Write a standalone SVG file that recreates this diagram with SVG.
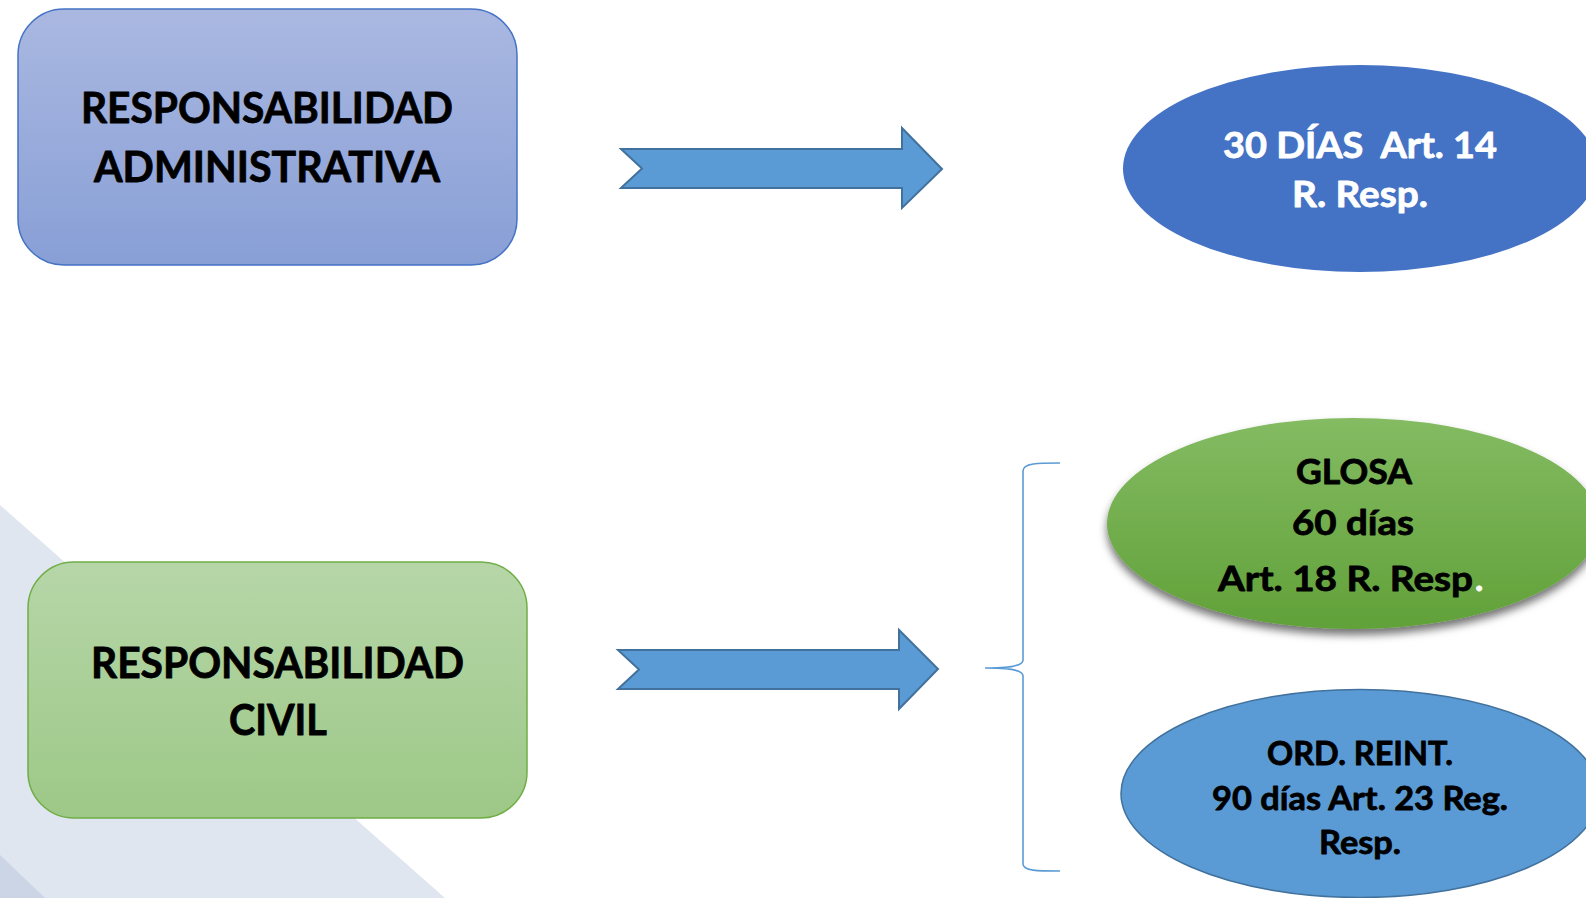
<svg xmlns="http://www.w3.org/2000/svg" width="1586" height="898" viewBox="0 0 1586 898">
<style>
.t{font-family:Lato,"Open Sans","Liberation Sans",sans-serif;font-weight:700;text-anchor:middle;stroke-width:0.8;stroke-linejoin:round}
.blk{fill:#000;stroke:#000}
.wht{fill:#fff;stroke:#fff}
.arrow{fill:#5b9bd5;stroke:#41719c;stroke-width:2;stroke-linejoin:miter}
.brace{fill:none;stroke:#5b9bd5;stroke-width:1.6}
</style>
<defs>
<linearGradient id="gBlue" x1="0" y1="0" x2="0" y2="1">
<stop offset="0" stop-color="#aab8e1"/>
<stop offset="1" stop-color="#889fd6"/>
</linearGradient>
<linearGradient id="gGreenBox" x1="0" y1="0" x2="0" y2="1">
<stop offset="0" stop-color="#b6d6a8"/>
<stop offset="1" stop-color="#9dc887"/>
</linearGradient>
<linearGradient id="gGreenEll" x1="0" y1="0" x2="0" y2="1">
<stop offset="0" stop-color="#84bb63"/>
<stop offset="1" stop-color="#61a139"/>
</linearGradient>
<filter id="shadow" x="-10%" y="-10%" width="120%" height="130%">
<feDropShadow dx="0" dy="6" stdDeviation="4" flood-color="#000" flood-opacity="0.55"/>
</filter>
</defs>
<rect width="1586" height="898" fill="#fff"/>
<g id="background">
<polygon points="0,505 445,898 0,898" fill="#e0e6ef"/>
<polygon points="0,855 45,898 0,898" fill="#cbd5e6"/>
</g>
<g id="connectors">
<polygon class="arrow" points="621,149 902,149 902,128 942,169 902,208 902,188 621,188 642,168.5"/>
<polygon class="arrow" points="618,650 899,650 899,630 938,669 899,709 899,689 618,689 639,669.5"/>
<path class="brace" d="M1060,463 C1038,463 1023,463 1023,471 L1023,660 C1023,667 1005,668 985,668 C1005,668 1023,669 1023,676 L1023,864 C1023,871 1038,871 1060,871"/>
</g>
<g id="node-admin">
<rect x="18" y="9" width="499" height="256" rx="46" ry="46" fill="url(#gBlue)" stroke="#4472c4" stroke-width="1.5"/>
<text class="t blk" x="267" y="123" font-size="42" textLength="372" lengthAdjust="spacingAndGlyphs">RESPONSABILIDAD</text>
<text class="t blk" x="267" y="182" font-size="42" textLength="346" lengthAdjust="spacingAndGlyphs">ADMINISTRATIVA</text>
</g>
<g id="node-civil">
<rect x="28" y="562" width="499" height="256" rx="46" ry="46" fill="url(#gGreenBox)" stroke="#70ad47" stroke-width="1.5"/>
<text class="t blk" x="277.5" y="678" font-size="42" textLength="373" lengthAdjust="spacingAndGlyphs">RESPONSABILIDAD</text>
<text class="t blk" x="278" y="735" font-size="42" textLength="98" lengthAdjust="spacingAndGlyphs">CIVIL</text>
</g>
<g id="node-30dias">
<ellipse cx="1360" cy="168.5" rx="237" ry="103.5" fill="#4472c4"/>
<text class="t wht" x="1360" y="158" font-size="36" textLength="274" lengthAdjust="spacingAndGlyphs" xml:space="preserve">30 DÍAS  Art. 14</text>
<text class="t wht" x="1360" y="207" font-size="36" textLength="136" lengthAdjust="spacingAndGlyphs">R. Resp.</text>
</g>
<g id="node-glosa">
<ellipse cx="1353" cy="523.5" rx="246" ry="105.5" fill="url(#gGreenEll)" filter="url(#shadow)"/>
<text class="t blk" x="1354" y="484" font-size="35" textLength="116" lengthAdjust="spacingAndGlyphs">GLOSA</text>
<text class="t blk" x="1353" y="535" font-size="35" textLength="122" lengthAdjust="spacingAndGlyphs">60 días</text>
<text class="t blk" x="1218" y="591" font-size="35" textLength="255" lengthAdjust="spacingAndGlyphs" style="text-anchor:start">Art. 18 R. Resp</text>
<text class="t wht" x="1475" y="591" font-size="35" style="text-anchor:start">.</text>
</g>
<g id="node-ordreint">
<ellipse cx="1360" cy="793.5" rx="239" ry="104" fill="#5b9bd5" stroke="#41719c" stroke-width="1.5"/>
<text class="t blk" x="1360" y="765" font-size="33" textLength="186" lengthAdjust="spacingAndGlyphs">ORD. REINT.</text>
<text class="t blk" x="1360" y="810" font-size="33" textLength="296" lengthAdjust="spacingAndGlyphs">90 días Art. 23 Reg.</text>
<text class="t blk" x="1360" y="854" font-size="33" textLength="82" lengthAdjust="spacingAndGlyphs">Resp.</text>
</g>
</svg>
